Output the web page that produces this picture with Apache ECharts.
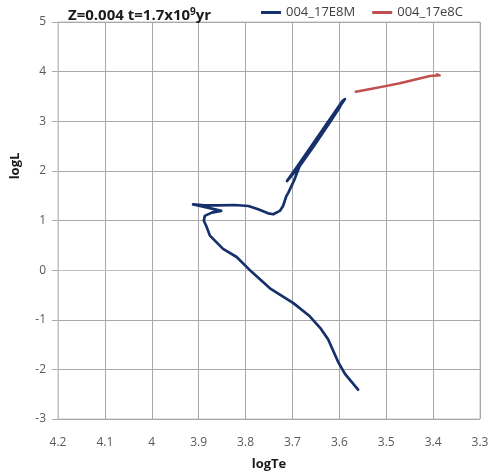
<!DOCTYPE html>
<html><head><meta charset="utf-8">
<script src="https://cdn.jsdelivr.net/npm/echarts@6/dist/echarts.min.js"></script>
<style>html,body{margin:0;padding:0;background:#fff}#c{width:500px;height:476px}</style>
</head><body><div id="c"></div>
<script>
// logTe, logL pairs
var seriesNames = ['004_17E8M', '004_17e8C'];
var mTe = [3.560,3.588,3.602,3.624,3.641,3.663,3.698,3.748,3.787,3.819,3.848,3.876,3.884,3.889,3.887,3.872,3.852,
  3.872,3.897,3.912,3.887,3.858,3.823,3.794,3.773,3.752,3.741,3.727,3.720,3.713,3.709,3.697,3.684,3.652,3.620,3.588,
  3.5934,3.6254,3.6574,3.6894,3.7117,3.7075,3.6862,3.6542,3.6222,3.5987];
var mL = [-2.409,-2.091,-1.860,-1.394,-1.163,-0.930,-0.666,-0.367,-0.035,0.264,0.429,0.695,0.894,0.994,1.093,1.159,1.193,
  1.239,1.293,1.324,1.304,1.304,1.312,1.292,1.225,1.145,1.125,1.193,1.292,1.492,1.557,1.796,2.115,2.552,3.010,3.448,
  3.408,2.970,2.532,2.094,1.796,1.756,2.075,2.502,2.950,3.289];
var cTe = [3.565,3.528,3.499,3.471,3.442,3.407,3.386,3.392];
var cL = [3.593,3.661,3.713,3.766,3.832,3.911,3.925,3.945];
var xTicks = [3.3,3.4,3.5,3.6,3.7,3.8,3.9,4.0,4.1,4.2];
var yTicks = [-3,-2,-1,0,1,2,3,4,5];

function pairs(a,b){return a.map(function(v,i){return [v,b[i]];});}
var FONT = 'Open Sans';
var BLUE = '#15306a', RED = '#c0504d';
var chart = echarts.init(document.getElementById('c'));
chart.setOption({
  animation:false,
  textStyle:{fontFamily:FONT},
  title:{
    text:'Z=0.004 t=1.7x10{sup|9}yr',
    left:63, top:2,
    textStyle:{fontFamily:FONT,fontSize:15,fontWeight:'bold',color:'#1a1a1a',
      rich:{sup:{fontFamily:FONT,fontSize:10,fontWeight:'bold',color:'#1a1a1a',verticalAlign:'top',padding:[0,0,8,0]}}}
  },
  legend:{
    left:256, top:1, itemWidth:20, itemHeight:3, itemGap:17, icon:'rect',
    textStyle:{fontFamily:FONT,fontSize:13,color:'#404040'},
    data:[{name:seriesNames[0],itemStyle:{color:BLUE}},{name:seriesNames[1],itemStyle:{color:RED}}]
  },
  grid:{left:58,right:20,top:22,bottom:52,show:true,borderColor:'#c0c0c0',borderWidth:1},
  xAxis:{
    type:'value', inverse:true, min:xTicks[0], max:xTicks[xTicks.length-1], interval:0.1,
    name:'logTe', nameLocation:'middle', nameGap:39,
    nameTextStyle:{fontFamily:FONT,fontSize:13,fontWeight:'bold',color:'#1a1a1a'},
    axisLine:{lineStyle:{color:'#c0c0c0'}},
    axisTick:{show:false},
    axisLabel:{margin:18,fontFamily:FONT,fontSize:12,color:'#595959',
      formatter:function(v){return String(Math.round(v*10)/10);}},
    splitLine:{show:true,lineStyle:{color:'#a8a8a8',width:1}}
  },
  yAxis:{
    type:'value', min:yTicks[0], max:yTicks[yTicks.length-1], interval:1,
    axisLine:{show:true,lineStyle:{color:'#c0c0c0'}},
    axisTick:{show:true,length:6,lineStyle:{color:'#a8a8a8'}},
    axisLabel:{margin:12,fontFamily:FONT,fontSize:12,color:'#595959'},
    splitLine:{show:true,lineStyle:{color:'#a8a8a8',width:1}}
  },
  graphic:[{type:'text',x:15,y:166,rotation:Math.PI/2,
    style:{text:'logL',fontFamily:FONT,fontSize:13,fontWeight:'bold',fill:'#1a1a1a',align:'center',verticalAlign:'middle'}}],
  series:[
    {name:seriesNames[0],type:'line',data:pairs(mTe,mL),symbol:'none',smooth:false,
      lineStyle:{color:BLUE,width:2.7,join:'round',cap:'round'},itemStyle:{color:BLUE}},
    {name:seriesNames[1],type:'line',data:pairs(cTe,cL),symbol:'none',smooth:false,
      lineStyle:{color:RED,width:2.5,join:'round',cap:'round'},itemStyle:{color:RED}}
  ]
});
</script></body></html>
